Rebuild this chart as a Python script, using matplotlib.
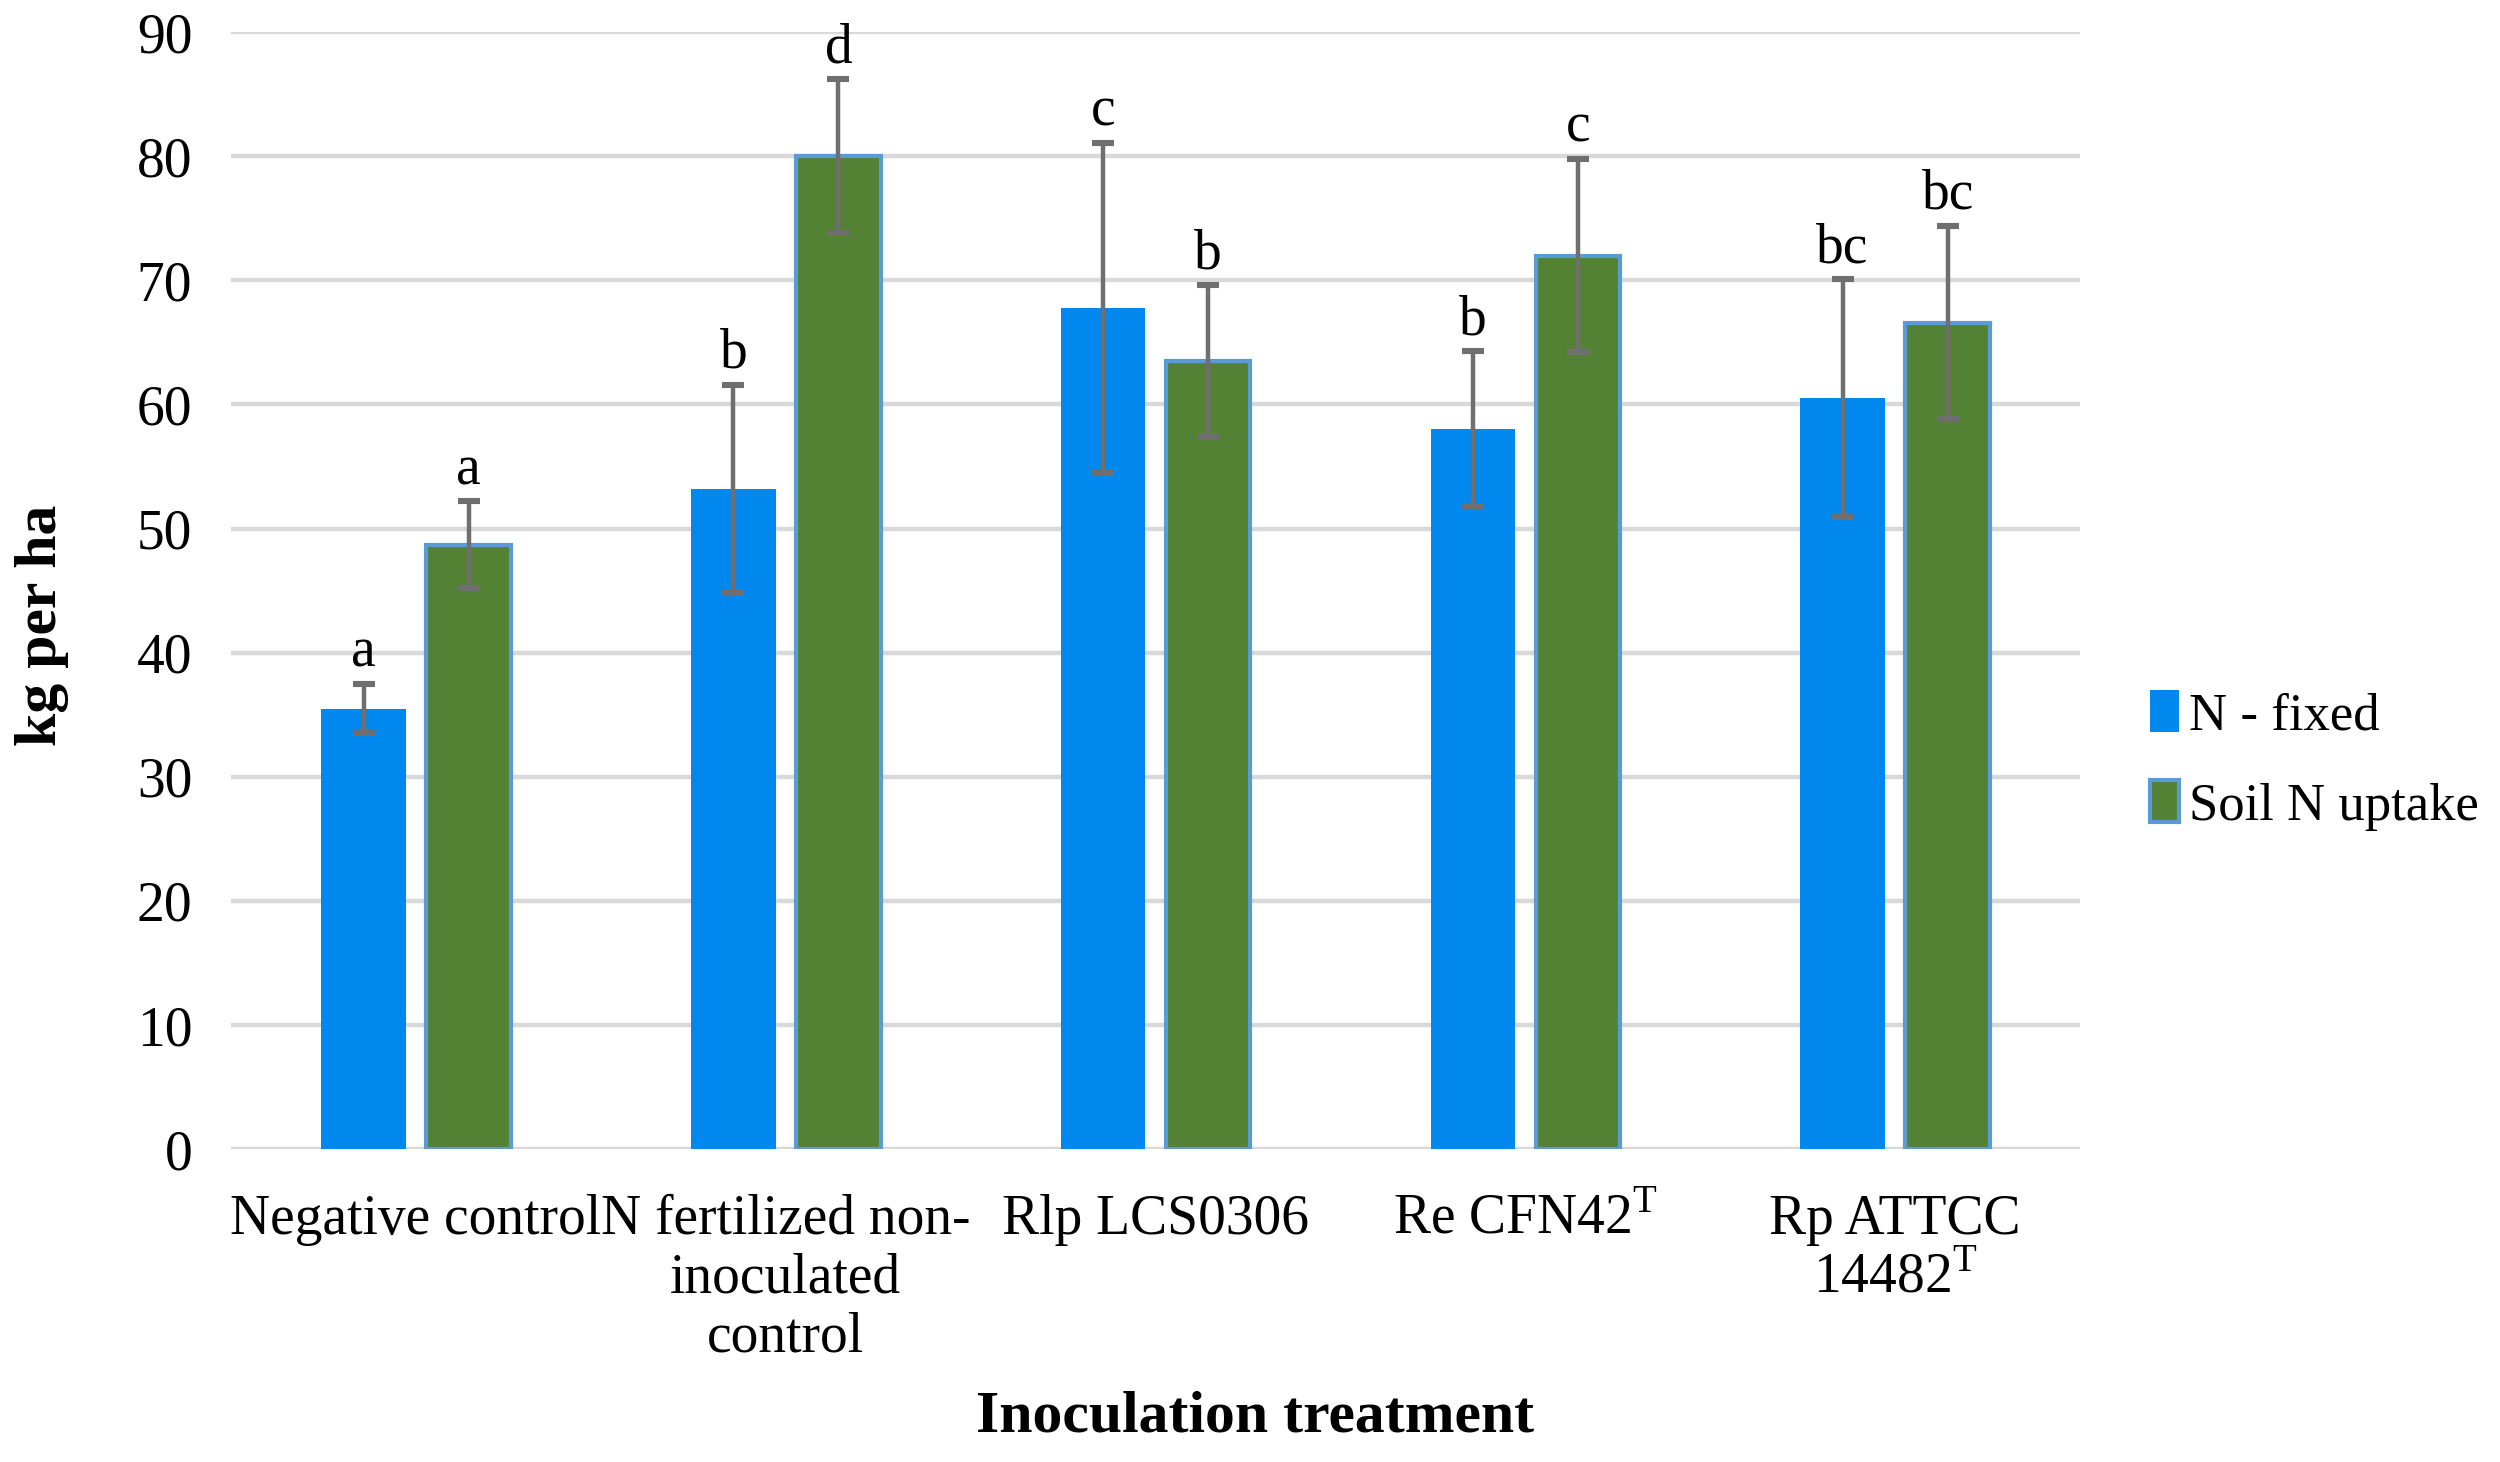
import numpy as np
from matplotlib import pyplot as plt

plt.rcParams['font.family'] = ['Liberation Serif', 'DejaVu Serif']
plt.rcParams['mathtext.fontset'] = 'custom'
plt.rcParams['mathtext.rm'] = 'Liberation Serif'

# Data
treatments = ['Negative control', 'N fertilized non-\ninoculated\ncontrol', 'Rlp LCS0306',
              r'Re CFN42$^{\mathrm{T}}$', 'Rp ATTCC\n14482$^{\\mathrm{T}}$']
n_fixed = [35.5, 53.2, 67.8, 58.0, 60.5]
n_fixed_err = [2.0, 8.4, 13.3, 6.3, 9.6]
soil_uptake = [48.7, 80.0, 63.5, 72.0, 66.6]
soil_uptake_err = [3.5, 6.2, 6.1, 7.8, 7.8]
letters_fixed = ['a', 'b', 'c', 'b', 'bc']
letters_soil = ['a', 'd', 'b', 'c', 'bc']

fig = plt.figure(figsize=(12.5, 7.31), dpi=200)
ax = fig.add_axes([0.0925, 0.214, 0.7395, 0.764])

x = np.arange(len(treatments))
w = 0.228
off = 0.142
err_kw = dict(ecolor='#6f6f6f', elinewidth=1.6, capsize=4, capthick=2.2)

ax.bar(x - off, n_fixed, w, color='#0088EE', yerr=n_fixed_err, error_kw=err_kw,
       label='N - fixed', zorder=3)
ax.bar(x + off, soil_uptake, w, color='#548235', edgecolor='#5B9BD5', linewidth=1.5,
       yerr=soil_uptake_err, error_kw=err_kw, label='Soil N uptake', zorder=3)

# significance letters above the error bars
for i in range(len(treatments)):
    ax.text(x[i] - off, n_fixed[i] + n_fixed_err[i] + 0.4, letters_fixed[i],
            ha='center', va='bottom', fontsize=20)
    ax.text(x[i] + off, soil_uptake[i] + soil_uptake_err[i] + 0.4, letters_soil[i],
            ha='center', va='bottom', fontsize=20)

ax.set_xlim(-0.5, len(treatments) - 0.5)
ax.set_ylim(0, 90)
ax.set_yticks(range(0, 91, 10))
ax.set_xticks(x)
ax.set_xticklabels(treatments, fontsize=20, linespacing=1.17)
ax.tick_params(axis='both', length=0, labelsize=20)
ax.tick_params(axis='y', pad=14)
ax.tick_params(axis='x', pad=16)
ax.yaxis.grid(True, color='#d9d9d9', linewidth=1.6, zorder=0)
ax.set_axisbelow(True)
for s in ax.spines.values():
    s.set_visible(False)

fig.text(0.502, 0.012, 'Inoculation treatment', ha='center', va='bottom',
         fontsize=21.5, fontweight='bold')
fig.text(0.006, 0.572, 'kg per ha', ha='left', va='center', rotation=90,
         fontsize=21.5, fontweight='bold')

ax.legend(loc='center left', bbox_to_anchor=(1.012, 0.348), frameon=False, fontsize=19,
          handlelength=0.55, handleheight=0.85, handletextpad=0.2, labelspacing=0.75)

plt.savefig('out.png')
